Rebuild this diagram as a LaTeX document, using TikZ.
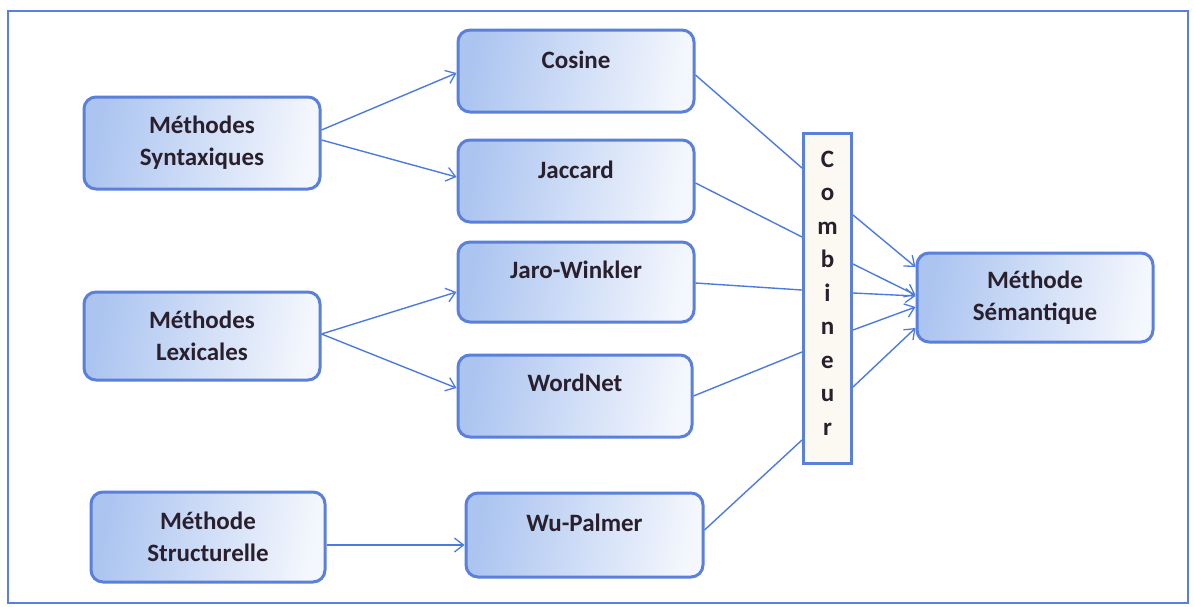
\documentclass[tikz,border=0pt]{standalone}
\usepackage{fontspec}
\setmainfont{Carlito}
\usetikzlibrary{calc,arrows.meta}

\definecolor{edgeblue}{HTML}{5A80DC}
\definecolor{lineblue}{HTML}{4C7BE0}
\definecolor{shadeblue}{HTML}{ABC4F0}
\definecolor{shadelight}{HTML}{F4F7FD}
\definecolor{inkdark}{HTML}{2A1F2C}
\definecolor{cream}{HTML}{FBF9F2}

\tikzset{
  methbox/.style={draw=edgeblue, line width=3pt, rounded corners=12pt,
    left color=shadeblue, right color=shadelight, shading angle=80,
    minimum width=#1, inner sep=0pt, text=inkdark,
    font=\bfseries\fontsize{25}{32}\selectfont, align=center},
  txt/.style={text=inkdark, font=\bfseries\fontsize{25}{32}\selectfont, inner sep=0pt},
  link/.style={draw=lineblue, line width=1.4pt, -{Straight Barb[length=9pt,width=14pt,line width=1.3pt]}},
  plain/.style={draw=lineblue, line width=1.4pt}
}

\begin{document}
\begin{tikzpicture}[x=1pt,y=-1pt]
  % page and outer frame
  \useasboundingbox[fill=white] (0,0) rectangle (1194,606);
  \draw[edgeblue, line width=1.4pt] (8,11) rectangle (1188,603);

  % source families
  \node[methbox=236pt, minimum height=92pt] (syn) at (202,143) {Méthodes\\Syntaxiques};
  \node[methbox=236pt, minimum height=88pt] (lex) at (202,336) {Méthodes\\Lexicales};
  \node[methbox=234pt, minimum height=90pt] (str) at (208,537) {Méthode\\Structurelle};

  % similarity measures (labels sit in the upper part of each box)
  \node[methbox=236pt, minimum height=82pt, label={[txt,yshift=11pt]center:Cosine}] (cos) at (576,71) {};
  \node[methbox=236pt, minimum height=82pt, label={[txt,yshift=11pt]center:Jaccard}] (jac) at (576,181) {};
  \node[methbox=236pt, minimum height=80pt, label={[txt,yshift=12pt]center:Jaro-Winkler}] (jw) at (576,282) {};
  \node[methbox=234pt, minimum height=82pt, label={[txt,yshift=13pt]center:WordNet}] (wn) at (575,396) {};
  \node[methbox=237pt, minimum height=84pt, label={[txt,yshift=12pt]center:Wu-Palmer}] (wp) at (584.5,535) {};

  % combiner column
  \node[draw=edgeblue, line width=3pt, fill=cream, minimum width=48pt, minimum height=330pt, inner sep=0pt] (comb) at (827.5,298) {};
  \node[txt, align=center, font=\bfseries\fontsize{25}{33.5}\selectfont] (combtxt) at (827.5,293)
    {C\\o\\m\\b\\i\\n\\e\\u\\r};

  % target
  \node[methbox=236pt, minimum height=89pt] (sem) at (1035,297.5) {Méthode\\Sémantique};

  % families to measures
  \draw[link] ($(syn.east)+(0,-13)$) -- ($(cos.west)+(0,2)$);
  \draw[link] ($(syn.east)+(0,-3)$) -- ($(jac.west)+(0,-4)$);
  \draw[link] ($(lex.east)+(0,-2)$) -- ($(jw.west)+(0,10)$);
  \draw[link] ($(lex.east)+(0,-2)$) -- ($(wn.west)+(0,-8)$);
  \draw[link] ($(str.east)+(0,8)$) -- ($(wp.west)+(0,10)$);

  % measures into the combiner
  \draw[plain] ($(cos.east)+(0,4)$) -- ($(comb.west)+(0,-130)$);
  \draw[plain] ($(jac.east)+(0,2)$) -- ($(comb.west)+(0,-61)$);
  \draw[plain] ($(jw.east)+(0,1)$) -- ($(comb.west)+(0,-8)$);
  \draw[plain] ($(wn.east)+(0,0)$) -- ($(comb.west)+(0,54)$);
  \draw[plain] ($(wp.east)+(0,-5)$) -- ($(comb.west)+(0,142)$);

  % combiner to the semantic method
  \draw[link] ($(comb.east)+(0,-83)$) -- ($(sem.west)+(0,-30.5)$);
  \draw[link] ($(comb.east)+(0,-34)$) -- ($(sem.west)+(0,-2.5)$);
  \draw[link] ($(comb.east)+(0,-5)$) -- ($(sem.west)+(0,-1.5)$);
  \draw[link] ($(comb.east)+(0,32)$) -- ($(sem.west)+(0,9.5)$);
  \draw[link] ($(comb.east)+(0,89)$) -- ($(sem.west)+(0,30.5)$);
\end{tikzpicture}
\end{document}
